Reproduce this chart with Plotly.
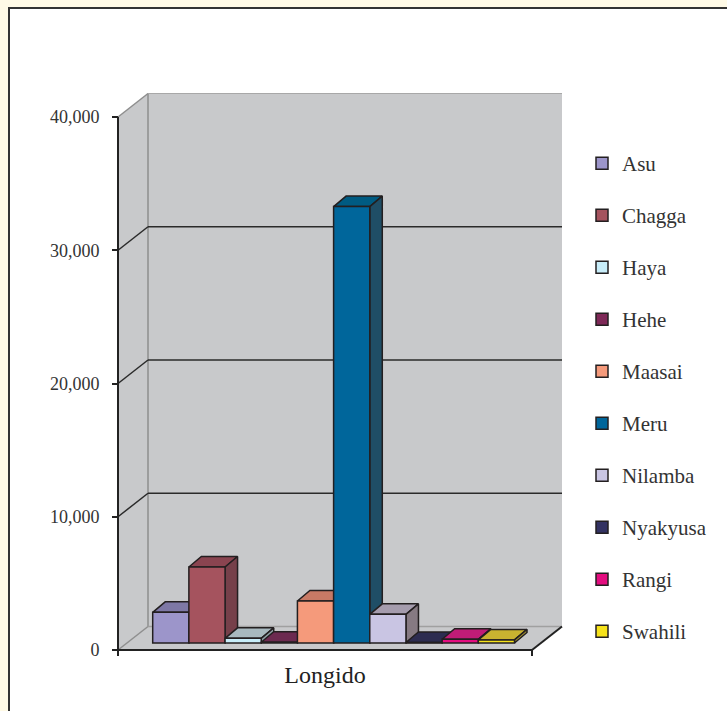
import plotly.graph_objects as go

# ---------------- data ----------------
groups = ["Asu", "Chagga", "Haya", "Hehe", "Maasai", "Meru", "Nilamba", "Nyakyusa", "Rangi", "Swahili"]
values = [2300, 5700, 350, 60, 3150, 32750, 2150, 40, 280, 230]
category = "Longido"
y_ticks = [0, 10000, 20000, 30000, 40000]

# ---------------- style ----------------
front_colors = ["#9C95CA", "#A5535E", "#C8EDF9", "#7E2857", "#F59A7B",
                "#00669B", "#C9C5E3", "#333262", "#E30D7F", "#F6E21A"]
top_colors = ["#7E78A6", "#8A4450", "#A8B9BF", "#6C2A50", "#C77965",
              "#005B82", "#A59CAD", "#2D2C50", "#C01C77", "#C9B330"]
side_colors = ["#6C6790", "#76404A", "#8FA0A6", "#5A2445", "#A8685A",
               "#1F4E66", "#867A82", "#25243F", "#9A1860", "#A89530"]
EDGE = "#231F20"
WALL = "#C8C9CB"
FONT = "Liberation Serif"

# ---------------- geometry (layout, in pixels -> axis units) ----------------
PLOT_L, PLOT_R, PLOT_T, PLOT_B = 114, 566, 88, 658
W, H = 727, 711
BAR_PX = 36.18            # width of one bar in px
FIRST_BAR_LEFT = 152.7    # px
Y0_PX = 650               # front-plane zero (px)
PX_PER_Y = 533 / 40000    # px per value unit


def xu(px):
    return (px - FIRST_BAR_LEFT) / BAR_PX - 0.5


def yu(px_up):
    return px_up / PX_PER_Y


x_range = [xu(PLOT_L), xu(PLOT_R)]
y_range = [-(PLOT_B - Y0_PX) / PX_PER_Y, (Y0_PX - PLOT_T) / PX_PER_Y]

XFL, XFR = xu(118), xu(532)      # front floor edge ends
DX, DY = 30 / BAR_PX, yu(23.5)   # depth of the walls
BAR_BASE = yu(7)                 # bars stand slightly behind the front plane
BDX, BDY = 12.5 / BAR_PX, yu(10.5)  # bar depth
YMAX = y_ticks[-1]

fig = go.Figure()

# top and side faces (drawn in the base subplot, below the fronts)
for i, (g, v) in enumerate(zip(groups, values)):
    xl, xr = i - 0.5, i + 0.5
    yb, yt = BAR_BASE, BAR_BASE + v
    fig.add_trace(go.Scatter(
        x=[xl, xr, xr + BDX, xl + BDX, xl],
        y=[yt, yt, yt + BDY, yt + BDY, yt],
        mode="lines", fill="toself", fillcolor=top_colors[i],
        line=dict(color=EDGE, width=1.5), showlegend=False, hoverinfo="skip",
        xaxis="x", yaxis="y"))
    fig.add_trace(go.Scatter(
        x=[xr, xr + BDX, xr + BDX, xr, xr],
        y=[yb, yb + BDY, yt + BDY, yt, yb],
        mode="lines", fill="toself", fillcolor=side_colors[i],
        line=dict(color=EDGE, width=1.5), showlegend=False, hoverinfo="skip",
        xaxis="x", yaxis="y"))

# front faces (overlay subplot, on top)
for i, (g, v) in enumerate(zip(groups, values)):
    fig.add_trace(go.Bar(
        x=[i], y=[v], base=BAR_BASE, width=1, name=g,
        marker=dict(color=front_colors[i], line=dict(color=EDGE, width=1.5)),
        legendgroup=g, xaxis="x2", yaxis="y2",
        hovertemplate=g + ": %{y:,}<extra></extra>"))

shapes = []
# frame
shapes.append(dict(type="rect", xref="paper", yref="paper", layer="below",
                   x0=(9 - PLOT_L) / (PLOT_R - PLOT_L), x1=(W + 40 - PLOT_L) / (PLOT_R - PLOT_L),
                   y0=(PLOT_B - (H + 40)) / (PLOT_B - PLOT_T), y1=(PLOT_B - 8) / (PLOT_B - PLOT_T),
                   fillcolor="white", line=dict(color="#333333", width=2)))
GRAY_EDGE = dict(color="#8E8E8E", width=1.5)
# side wall
shapes.append(dict(type="path", layer="below", xref="x", yref="y",
                   path=f"M{XFL},0 L{XFL},{YMAX} L{XFL+DX},{YMAX+DY} L{XFL+DX},{DY} Z",
                   fillcolor=WALL, line=dict(width=0)))
# floor
shapes.append(dict(type="path", layer="below", xref="x", yref="y",
                   path=f"M{XFL},0 L{XFR},0 L{XFR+DX},{DY} L{XFL+DX},{DY} Z",
                   fillcolor=WALL, line=dict(width=0)))
# back wall
shapes.append(dict(type="rect", layer="below", xref="x", yref="y",
                   x0=XFL + DX, x1=XFR + DX, y0=DY, y1=YMAX + DY,
                   fillcolor=WALL, line=dict(width=0)))


def seg(x0, y0, x1, y1, line, layer="below"):
    shapes.append(dict(type="line", layer=layer, xref="x", yref="y",
                       x0=x0, y0=y0, x1=x1, y1=y1, line=line))


# wall edges
seg(XFL + DX, DY, XFL + DX, YMAX + DY, GRAY_EDGE)
seg(XFL + DX, DY, XFR + DX, DY, dict(color="#A0A0A0", width=1.5))
seg(XFL, YMAX, XFL + DX, YMAX + DY, GRAY_EDGE)
seg(XFL + DX, YMAX + DY, XFR + DX, YMAX + DY, dict(color="#A8A8A8", width=1))
seg(XFL, 0, XFL + DX, DY, GRAY_EDGE)
# gridlines
for v in y_ticks[1:-1]:
    seg(XFL, v, XFL + DX, v + DY, dict(color="#2A2A2A", width=1.5))
    seg(XFL + DX, v + DY, XFR + DX, v + DY, dict(color="#2A2A2A", width=1.5))
# front edges
DARK = dict(color="#222222", width=2)
seg(XFL, 0, XFL, YMAX, DARK, "above")
seg(XFL, 0, XFR, 0, DARK, "above")
seg(XFR, 0, XFR + DX, DY, DARK, "above")
seg(XFL, 0, XFL, -yu(6), DARK, "above")
seg(XFR, 0, XFR, -yu(6), DARK, "above")

fig.update_layout(
    width=W, height=H,
    margin=dict(l=PLOT_L, r=W - PLOT_R, t=PLOT_T, b=H - PLOT_B, autoexpand=False),
    paper_bgcolor="#FFFAE6", plot_bgcolor="rgba(0,0,0,0)",
    barmode="overlay",
    shapes=shapes,
    font=dict(family=FONT, color="#333333"),
    xaxis=dict(range=x_range, showgrid=False, zeroline=False, showline=False,
               tickmode="array", tickvals=[(XFL + XFR) / 2], ticktext=[category],
               ticks="", tickfont=dict(size=24, color="#222222", family=FONT)),
    yaxis=dict(range=y_range, showgrid=False, zeroline=False, showline=False,
               anchor="free", position=(118 - PLOT_L) / (PLOT_R - PLOT_L),
               tickmode="array", tickvals=y_ticks, tickformat=",d",
               ticks="outside", ticklen=6, tickwidth=2, tickcolor="#222222",
               ticklabelstandoff=9,
               tickfont=dict(size=18, color="#333333", family=FONT)),
    xaxis2=dict(range=x_range, overlaying="x", anchor="y2", visible=False),
    yaxis2=dict(range=y_range, overlaying="y", anchor="x2", visible=False),
    legend=dict(x=(582 - PLOT_L) / (PLOT_R - PLOT_L), xanchor="left",
                y=(PLOT_B - 143) / (PLOT_B - PLOT_T), yanchor="top",
                traceorder="grouped", tracegroupgap=21.7,
                bgcolor="rgba(0,0,0,0)", font=dict(size=21, color="#333333", family=FONT)),
)

fig.write_html("out.html",
               config={"displayModeBar": False},
               post_script="document.body.style.margin='0px';"
                           "document.body.style.background='#FFFAE6';")
